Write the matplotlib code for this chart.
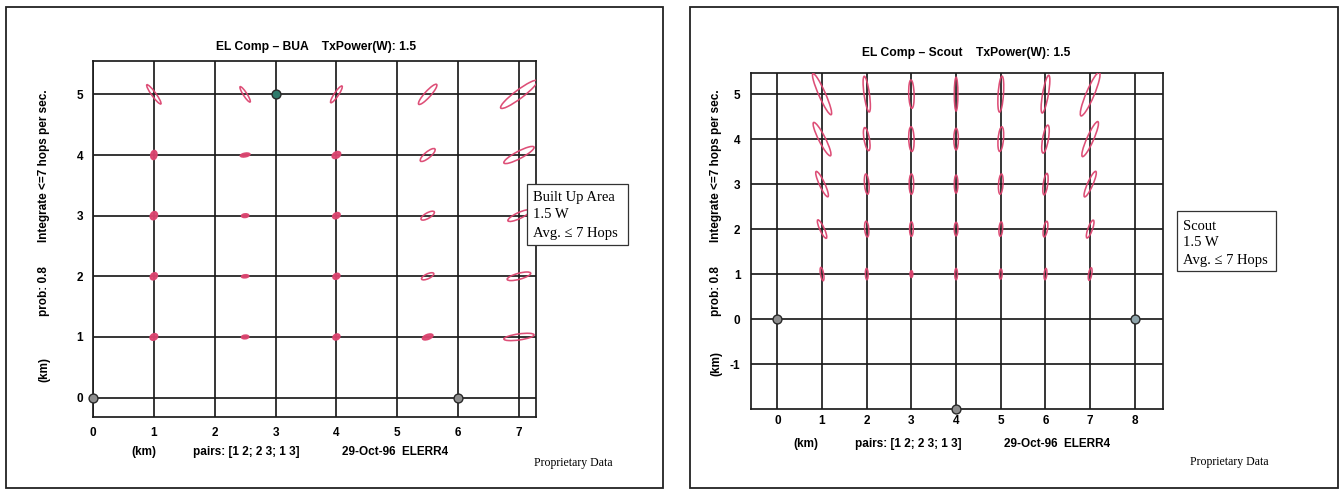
import numpy as np
import matplotlib
matplotlib.use("Agg")
import matplotlib.pyplot as plt
from matplotlib.patches import Ellipse, Rectangle

plt.rcParams["axes.unicode_minus"] = False

# ---------------- data ----------------
# Left panel (Built Up Area)
left_x = [1, 2.5, 4, 5.5, 7]
left_y = [1, 2, 3, 4, 5]
# rows follow left_y (1..5), columns follow left_x
left_major = [
    [0.13, 0.12, 0.12, 0.18, 0.50],
    [0.13, 0.12, 0.12, 0.22, 0.40],
    [0.14, 0.12, 0.13, 0.25, 0.40],
    [0.15, 0.16, 0.15, 0.31, 0.56],
    [0.39, 0.30, 0.33, 0.44, 0.75],
]
left_minor = [
    [0.10, 0.06, 0.09, 0.08, 0.10],
    [0.10, 0.05, 0.09, 0.08, 0.10],
    [0.11, 0.06, 0.09, 0.09, 0.10],
    [0.10, 0.06, 0.10, 0.10, 0.12],
    [0.07, 0.06, 0.07, 0.10, 0.14],
]
left_angle = [
    [30, 5, 30, 20, 8],
    [45, 5, 30, 25, 15],
    [60, 5, 30, 30, 25],
    [80, 10, 30, 40, 28],
    [-54, -57, 56, 48, 37],
]
left_nodes_x = [0, 6, 3]
left_nodes_y = [0, 0, 5]

# Right panel (Scout)
right_x = [1, 2, 3, 4, 5, 6, 7]
right_y = [1, 2, 3, 4, 5]
right_major = [
    [0.30, 0.25, 0.15, 0.25, 0.22, 0.25, 0.28],
    [0.45, 0.35, 0.32, 0.30, 0.32, 0.35, 0.42],
    [0.62, 0.45, 0.45, 0.40, 0.45, 0.48, 0.62],
    [0.83, 0.52, 0.55, 0.48, 0.55, 0.63, 0.85],
    [1.00, 0.80, 0.63, 0.75, 0.80, 0.85, 1.05],
]
right_minor = [
    [0.07, 0.06, 0.06, 0.06, 0.06, 0.06, 0.07],
    [0.10, 0.09, 0.08, 0.08, 0.08, 0.09, 0.10],
    [0.12, 0.10, 0.10, 0.08, 0.10, 0.10, 0.12],
    [0.15, 0.12, 0.12, 0.10, 0.12, 0.13, 0.15],
    [0.15, 0.12, 0.12, 0.08, 0.12, 0.13, 0.18],
]
right_angle = [
    [100, 92, 90, 90, 88, 85, 80],
    [115, 95, 90, 90, 86, 80, 70],
    [115, 95, 90, 90, 86, 82, 66],
    [117, 100, 92, 90, 85, 80, 66],
    [114, 98, 92, 90, 86, 80, 67],
]
right_nodes_x = [0, 8, 4]
right_nodes_y = [0, 0, -2]

left_xticks = [0, 1, 2, 3, 4, 5, 6, 7]
left_yticks = [0, 1, 2, 3, 4, 5]
right_xticks = [0, 1, 2, 3, 4, 5, 6, 7, 8]
right_yticks = [-1, 0, 1, 2, 3, 4, 5]

left_title = "EL Comp \u2013 BUA    TxPower(W): 1.5"
right_title = "EL Comp \u2013 Scout    TxPower(W): 1.5"
ylabel_parts = ["Integrate <=7 hops per sec.", "prob: 0.8", "(km)"]
xlabel_parts = ["(km)", "pairs: [1 2; 2 3; 1 3]", "29-Oct-96  ELERR4"]
left_box = ["Built Up Area", "1.5 W", "Avg. \u2264 7 Hops"]
right_box = ["Scout", "1.5 W", "Avg. \u2264 7 Hops"]
footer = "Proprietary Data"

# ---------------- figure ----------------
W, H = 1342, 490
fig = plt.figure(figsize=(W / 100, H / 100), dpi=100)
fig.patch.set_facecolor("white")

SANS = ["Liberation Sans", "DejaVu Sans"]
SERIF = ["Liberation Serif", "DejaVu Serif"]
ELL_COLOR = "#dc4570"
GRID = "#1c1c1c"


def fx(px):
    return px / W


def fy(py):
    return 1 - py / H


def make_axes(l, t, r, b):
    return fig.add_axes([fx(l), fy(b), (r - l) / W, (b - t) / H])


def style_axes(ax, xticks, yticks, xlim, ylim, xpad, ypad):
    ax.set_xlim(*xlim)
    ax.set_ylim(*ylim)
    ax.set_xticks(xticks)
    ax.set_yticks(yticks)
    ax.tick_params(length=0, labelsize=8.5)
    ax.tick_params(axis="x", pad=xpad)
    ax.tick_params(axis="y", pad=ypad)
    for lab in ax.get_xticklabels() + ax.get_yticklabels():
        lab.set_fontfamily(SANS)
        lab.set_fontweight("bold")
    ax.grid(True, color=GRID, lw=1.25)
    ax.set_axisbelow(True)
    for s in ax.spines.values():
        s.set_color(GRID)
        s.set_linewidth(1.25)


def draw_ellipses(ax, xs, ys, major, minor, angle):
    for i, yv in enumerate(ys):
        for j, xv in enumerate(xs):
            mj, mn, an = major[i][j], minor[i][j], angle[i][j]
            small = mj < 0.2
            e = Ellipse((xv, yv), mj, mn, angle=an,
                        facecolor=ELL_COLOR if small else "none",
                        edgecolor=ELL_COLOR, lw=1.15, zorder=3,
                        alpha=0.95)
            ax.add_patch(e)


def draw_nodes(ax, xs, ys, colors):
    for xv, yv, c in zip(xs, ys, colors):
        ax.plot([xv], [yv], "o", ms=6.4, mfc=c, mec="#2a2a2a", mew=1.0,
                clip_on=False, zorder=6)


# ---- left axes ----
axL = make_axes(93, 61, 536, 417)
style_axes(axL, left_xticks, left_yticks, (0, 7.28), (-0.32, 5.55), 7.5, 7)
draw_ellipses(axL, left_x, left_y, left_major, left_minor, left_angle)
draw_nodes(axL, left_nodes_x, left_nodes_y, ["#8e8e8e", "#8e8e8e", "#2f7a6b"])

# ---- right axes ----
axR = make_axes(751, 73, 1163, 409)
style_axes(axR, right_xticks, right_yticks, (-0.59, 8.63), (-2, 5.47), 4.5, 7.5)
draw_ellipses(axR, right_x, right_y, right_major, right_minor, right_angle)
draw_nodes(axR, right_nodes_x, right_nodes_y, ["#8e8e8e", "#8ea4ab", "#8e8e8e"])

# ---- panel frames ----
for (l, t, r, b) in [(6, 7, 663, 488), (690, 7, 1338, 488)]:
    fig.add_artist(Rectangle((fx(l), fy(b)), (r - l) / W, (b - t) / H,
                             transform=fig.transFigure, fill=False,
                             ec="#222222", lw=1.3))

# ---- titles ----
fig.text(fx(316), fy(47), left_title, ha="center", va="center",
         fontsize=8.7, fontweight="bold", family=SANS)
fig.text(fx(966), fy(53), right_title, ha="center", va="center",
         fontsize=8.7, fontweight="bold", family=SANS)

# ---- y labels ----
for xpos, centers in [(44, [166, 291, 370]), (716, [166, 291, 363])]:
    for txt, cy in zip(ylabel_parts, centers):
        fig.text(fx(xpos), fy(cy), txt, rotation=90, ha="center", va="center",
                 fontsize=8.5, fontweight="bold", family=SANS)

# ---- x labels ----
for x0, ypos in [(131, 452), (793, 444)]:
    for txt, off in zip(xlabel_parts, [0, 62, 211]):
        fig.text(fx(x0 + off), fy(ypos), txt, ha="left", va="center",
                 fontsize=8.5, fontweight="bold", family=SANS)

# ---- legend-like boxes ----
for (l, t, r, b), lines, tx, ys in [
    ((527, 184, 628, 245), left_box, 533, [198, 215, 233]),
    ((1177, 211, 1276, 271), right_box, 1183, [226, 243, 260]),
]:
    fig.add_artist(Rectangle((fx(l), fy(b)), (r - l) / W, (b - t) / H,
                             transform=fig.transFigure, fill=True,
                             fc="white", ec="#333333", lw=0.9))
    for txt, yy in zip(lines, ys):
        fig.text(fx(tx), fy(yy), txt, ha="left", va="center",
                 fontsize=10.5, family=SERIF)

# ---- footers ----
fig.text(fx(534), fy(463), footer, ha="left", va="center", fontsize=8.5, family=SERIF)
fig.text(fx(1190), fy(462), footer, ha="left", va="center", fontsize=8.5, family=SERIF)

fig.savefig("out.png", dpi=100, facecolor="white")
